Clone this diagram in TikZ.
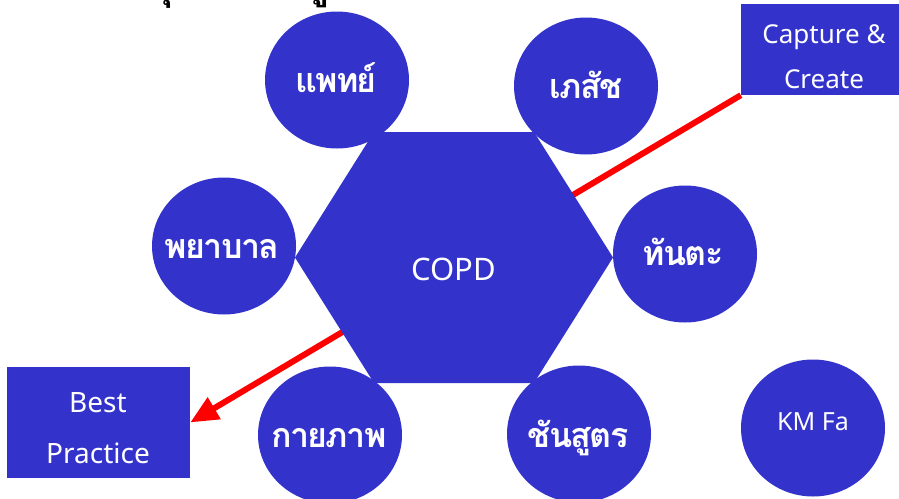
\documentclass[tikz,border=0pt]{standalone}
\usepackage{fontspec}
\setmainfont{Noto Sans}
\newfontfamily\thaifont[Script=Thai]{Loma}
\newfontfamily\thaitight[Script=Thai,LetterSpace=-5]{Loma}
\usetikzlibrary{arrows.meta,shapes.geometric}
\definecolor{kmblue}{RGB}{51,51,204}
\begin{document}
\begin{tikzpicture}[x=1pt,y=-1pt,
  bub/.style={ellipse,fill=kmblue,draw=none,minimum width=144pt,minimum height=137pt,inner sep=0pt},
  thai/.style={anchor=base,text=white,inner sep=0pt,font=\thaitight\bfseries\fontsize{34}{40}\selectfont},
  lat/.style={anchor=base,text=white,inner sep=0pt},
  boxnode/.style={rectangle,fill=kmblue,draw=none,inner sep=0pt},
  redarrow/.style={draw=red,line width=6pt,-{Triangle[length=28pt,width=24pt]}},
  frag/.style={anchor=base east,text=black,inner sep=0pt,font=\thaifont\bfseries\fontsize{38}{40}\selectfont}
]
\useasboundingbox (0,0) rectangle (899,498);
\fill[white] (0,0) rectangle (899,498);
% title fragments cut off at top
\begin{scope}
\clip (0,0) rectangle (899,498);
\node[frag] (frag1) at (174,-1.5) {ทุ};
\node[frag] (frag2) at (330,-1.5) {ทู};
\end{scope}
% boxes
\node[boxnode,minimum width=158pt,minimum height=91pt] (cap) at (820,49.5) {};
\node[boxnode,minimum width=183pt,minimum height=111pt] (best) at (98.5,422.5) {};
\node[lat,font=\fontsize{26}{30}\selectfont] (capt1) at (824,43) {Capture \&};
\node[lat,font=\fontsize{26}{30}\selectfont] (capt2) at (824,88) {Create};
\node[lat,font=\fontsize{28}{32}\selectfont] (bestt1) at (98,412) {Best};
\node[lat,font=\fontsize{28}{32}\selectfont] (bestt2) at (98,463) {Practice};
% arrow behind hexagon
\draw[redarrow] (cap.south west) -- (best.east);
% hexagon
\fill[kmblue] (295,257.5) -- (374,132) -- (534,132) -- (613,257.5) -- (534,383) -- (374,383) -- cycle;
\node[lat,font=\fontsize{31}{36}\selectfont] (copd) at (453.5,280) {COPD};
% circles
\node[bub] (doc) at (337,80) {};
\node[bub] (pharm) at (586,86) {};
\node[bub] (nurse) at (224,246) {};
\node[bub] (dent) at (685,254) {};
\node[bub] (physio) at (330,435) {};
\node[bub] (lab) at (579,434) {};
\node[bub] (kmfa) at (813,428) {};
\node[thai] (doct) at (336,92) {แพทย์};
\node[thai] (pharmt) at (586,98) {เภสัช};
\node[thai] (nurset) at (222,258) {พยาบาล};
\node[thai] (dentt) at (683,265) {ทันตะ};
\node[thai] (physiot) at (329,447) {กายภาพ};
\node[thai] (labt) at (578,447) {ชันสูตร};
\node[lat,font=\fontsize{25}{30}\selectfont] (kmfat) at (813,430) {KM Fa};
\end{tikzpicture}
\end{document}
